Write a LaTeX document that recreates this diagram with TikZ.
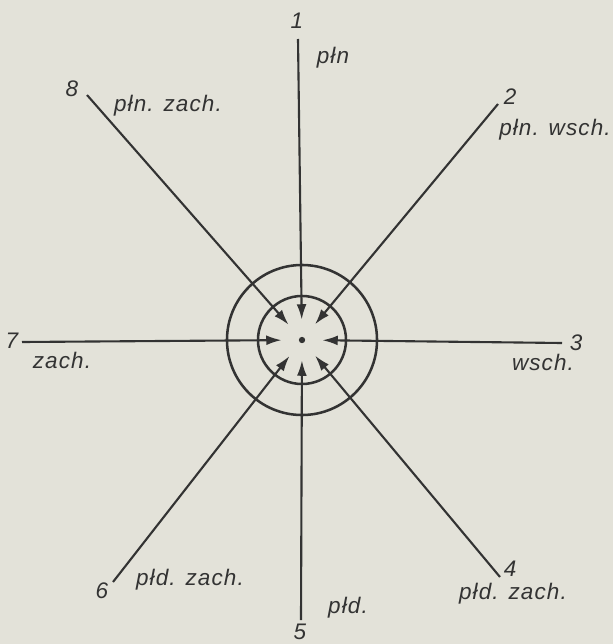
\documentclass[tikz,border=0pt]{standalone}
\usepackage{fontspec}
\usepackage{tikz}
\usetikzlibrary{arrows.meta}
\newfontfamily\dirfont{Liberation Sans}[LetterSpace=5]
\definecolor{paper}{HTML}{E3E2D9}
\definecolor{ink}{HTML}{333333}

\begin{document}
\begin{tikzpicture}[
    x=0.025cm, y=-0.025cm,
    ray/.style={draw=ink, line width=1.5pt, -{Latex[length=11pt, width=7pt]}},
    ring/.style={circle, draw=ink, line width=1.8pt, inner sep=0pt},
    lbl/.style={font=\dirfont\itshape\fontsize{16}{18}\selectfont, text=ink, inner sep=0pt},
    num/.style={font=\dirfont\itshape\fontsize{16}{18}\selectfont, text=ink, inner sep=0pt}
]
    % Tlo i ramka
    \fill[paper] (0,0) rectangle (613,644);
    \useasboundingbox (0,0) rectangle (613,644);

    % Srodek i okregi
    \coordinate (c) at (302,340);
    \node[circle, minimum size=1cm, inner sep=0pt] (core) at (c) {};
    \node[ring, minimum size=2.2cm] (inner) at (c) {};
    \node[ring, minimum size=3.75cm] (outer) at (c) {};
    \node[circle, fill=ink, inner sep=0pt, minimum size=4.5pt] (dot) at (c) {};

    % Konce promieni
    \coordinate (e1) at (298,39);
    \coordinate (e2) at (498,104);
    \coordinate (e3) at (562,343);
    \coordinate (e4) at (500,577);
    \coordinate (e5) at (301,620);
    \coordinate (e6) at (113,582);
    \coordinate (e7) at (22,342);
    \coordinate (e8) at (87,95);

    % Promienie ze strzalkami
    \foreach \i in {1,...,8}
        \draw[ray] (e\i) -- (core);

    % Numery kierunkow
    \node[num] (n1) at (297,21) {1};
    \node[num] (n2) at (510,97) {2};
    \node[num] (n3) at (576,343) {3};
    \node[num] (n4) at (510,569) {4};
    \node[num] (n5) at (300,632) {5};
    \node[num] (n6) at (102,591) {6};
    \node[num] (n7) at (12,341) {7};
    \node[num] (n8) at (72,89) {8};

    % Nazwy kierunkow
    \node[lbl] (t1) at (333,58) {płn};
    \node[lbl] (t2) at (555,130) {płn. wsch.};
    \node[lbl] (t3) at (543,362) {wsch.};
    \node[lbl] (t4) at (513,594) {płd. zach.};
    \node[lbl] (t5) at (348,608) {płd.};
    \node[lbl] (t6) at (190,580) {płd. zach.};
    \node[lbl] (t7) at (62,360) {zach.};
    \node[lbl] (t8) at (168,106) {płn. zach.};
\end{tikzpicture}
\end{document}
